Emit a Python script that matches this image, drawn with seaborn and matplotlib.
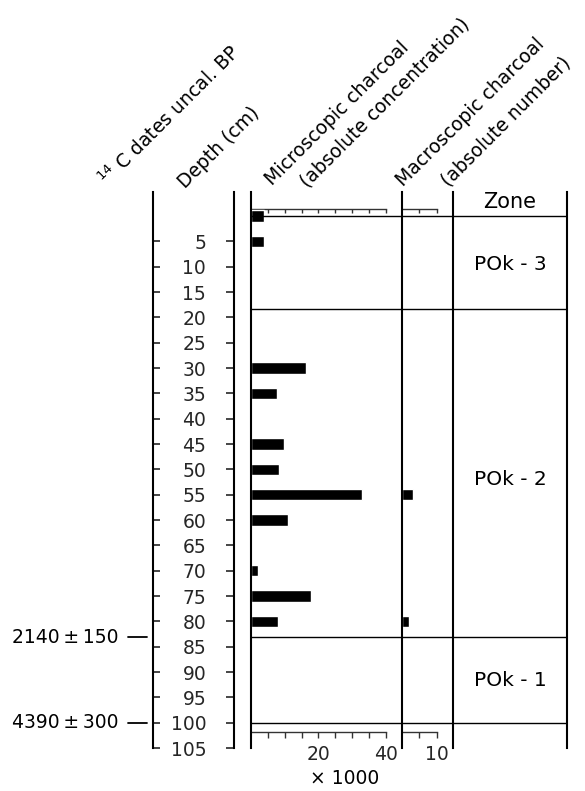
import numpy as np
import pandas as pd
import matplotlib
matplotlib.use("Agg")
import matplotlib.pyplot as plt
import matplotlib.transforms as mtransforms
from matplotlib.ticker import FixedLocator, NullFormatter
import seaborn as sns

# samples with charcoal (depth in cm)
micro_depth = [0, 5, 30, 35, 45, 50, 55, 60, 70, 75, 80]
micro_conc = [3.8, 4.0, 16.3, 7.6, 9.8, 8.3, 32.9, 11.0, 2.1, 17.8, 7.9]  # x 1000
macro_depth = [55, 80]
macro_num = [3.1, 2.0]

zone_bounds = [0, 18.4, 83.1, 100]
zone_names = ["POk - 3", "POk - 2", "POk - 1"]
zone_label_depth = [9.5, 52, 91.6]

date_depth = [83.1, 100]
date_labels = ["2140\u2009±\u2009150", "4390\u2009±\u2009300"]

depth_ticks = list(range(5, 110, 5))
micro_scale = list(range(5, 45, 5))
micro_labels = [20, 40]
macro_scale = [5, 10]
macro_labels = [10]

sns.set_theme(style="white")
plt.rcParams["font.family"] = ["DejaVu Sans"]
plt.rcParams["text.color"] = "black"
plt.rcParams["axes.edgecolor"] = "black"

W, H = 585, 791
fig = plt.figure(figsize=(W / 100, H / 100), dpi=100)

Y_TOP, Y_BOT = 192, 748
D_TOP, D_BOT = -4.74, 105


def rect(x0, x1):
    return [x0 / W, 1 - Y_BOT / H, (x1 - x0) / W, (Y_BOT - Y_TOP) / H]


def strip(ax, keep):
    for name, sp in ax.spines.items():
        sp.set_visible(name in keep)
        sp.set_linewidth(1.5)
        sp.set_color("black")
    ax.set_facecolor("none")
    ax.set_ylim(D_BOT, D_TOP)
    ax.set_xlabel("")
    ax.set_ylabel("")


FS = 13.5
HFS = 13.5

# 14C dates axis
ax_c14 = fig.add_axes(rect(153, 235))
strip(ax_c14, ["left"])
ax_c14.set_xticks([])
ax_c14.set_yticks(depth_ticks)
ax_c14.tick_params(axis="y", direction="in", length=5, width=1.2, labelleft=False, left=True)
tr = mtransforms.blended_transform_factory(fig.transFigure, ax_c14.transData)
for d, lab in zip(date_depth, date_labels):
    fig.text(119 / W, d, lab, transform=tr, ha="right", va="center", fontsize=FS)
    ax_c14.plot([128 / W, 147 / W], [d, d], transform=tr, color="black", lw=1.3, clip_on=False)

# depth axis
ax_dep = fig.add_axes(rect(234, 250))
strip(ax_dep, ["left"])
ax_dep.set_xticks([])
ax_dep.set_yticks(depth_ticks)
ax_dep.set_yticklabels([str(t) for t in depth_ticks])
ax_dep.tick_params(axis="y", direction="out", length=6, width=1.2, pad=14, labelsize=FS, left=True)

# microscopic charcoal
bar_h = 2.2
ax_mic = fig.add_axes(rect(251, 402))
df_mic = pd.DataFrame({"depth": micro_depth, "conc": micro_conc})
sns.barplot(data=df_mic, x="conc", y="depth", orient="h", native_scale=True,
            width=bar_h / np.diff(sorted(micro_depth)).min(), color="black",
            saturation=1, ax=ax_mic)
strip(ax_mic, ["left"])
ax_mic.set_xlim(0, 44.75)
ax_mic.set_xticks([])
ax_mic.set_yticks([])

# macroscopic charcoal
ax_mac = fig.add_axes(rect(402, 453))
df_mac = pd.DataFrame({"depth": macro_depth, "num": macro_num})
sns.barplot(data=df_mac, x="num", y="depth", orient="h", native_scale=True,
            width=bar_h / np.diff(sorted(macro_depth)).min(), color="black",
            saturation=1, ax=ax_mac)
strip(ax_mac, ["left"])
ax_mac.set_xlim(0, 14.7)
ax_mac.set_xticks([])
ax_mac.set_yticks([])

# zones
ax_zone = fig.add_axes(rect(453, 567))
strip(ax_zone, ["left", "right"])
ax_zone.set_xlim(0, 1)
ax_zone.set_xticks([])
ax_zone.set_yticks([])
for ax in (ax_mic, ax_mac, ax_zone):
    for z in zone_bounds:
        ax.axhline(z, color="black", lw=1.0, zorder=3)
for name, d in zip(zone_names, zone_label_depth):
    ax_zone.text(0.5, d, name, ha="center", va="center", fontsize=14.5)
ax_zone.text(0.5, 1 - (202 - Y_TOP) / (Y_BOT - Y_TOP), "Zone", transform=ax_zone.transAxes,
             ha="center", va="center", fontsize=15)


# scale bars on top and bottom of the charcoal panels
def scale(ax, pos, ticks, labels, top):
    sec = ax.secondary_xaxis(pos)
    sec.xaxis.set_major_locator(FixedLocator(labels))
    sec.xaxis.set_minor_locator(FixedLocator(ticks))
    if top:
        sec.tick_params(which="both", direction="in", length=3, width=1.0, color="0.2",
                        labeltop=False, labelbottom=False)
    else:
        sec.tick_params(which="both", direction="out", length=4, width=1.0, color="0.2",
                        pad=5, labelsize=FS)
    sec.xaxis.set_minor_formatter(NullFormatter())
    for sp in ("top", "bottom"):
        sec.spines[sp].set_bounds(0, ticks[-1])
        sec.spines[sp].set_linewidth(1.0)
        sec.spines[sp].set_color("0.2")
    return sec


top_pos = 1 - (209 - Y_TOP) / (Y_BOT - Y_TOP)
bot_pos = (Y_BOT - 732) / (Y_BOT - Y_TOP)
scale(ax_mic, top_pos, micro_scale, micro_labels, True)
scale(ax_mic, bot_pos, micro_scale, micro_labels, False)
scale(ax_mac, top_pos, macro_scale, macro_labels, True)
scale(ax_mac, bot_pos, macro_scale, macro_labels, False)

fig.text(345 / W, 1 - 779 / H, "× 1000", ha="center", va="center", fontsize=FS)

# column headers
headers = [
    ("$^{14}$ C dates uncal. BP", 108, 188),
    ("Depth (cm)", 185, 189),
    ("Microscopic charcoal", 272, 186),
    ("(absolute concentration)", 307, 188),
    ("Macroscopic charcoal", 403, 187),
    ("(absolute number)", 448, 187),
]
for txt, x, y in headers:
    fig.text(x / W, 1 - y / H, txt, rotation=45, rotation_mode="anchor",
             ha="left", va="baseline", fontsize=HFS)

fig.savefig("out.png", dpi=100)
